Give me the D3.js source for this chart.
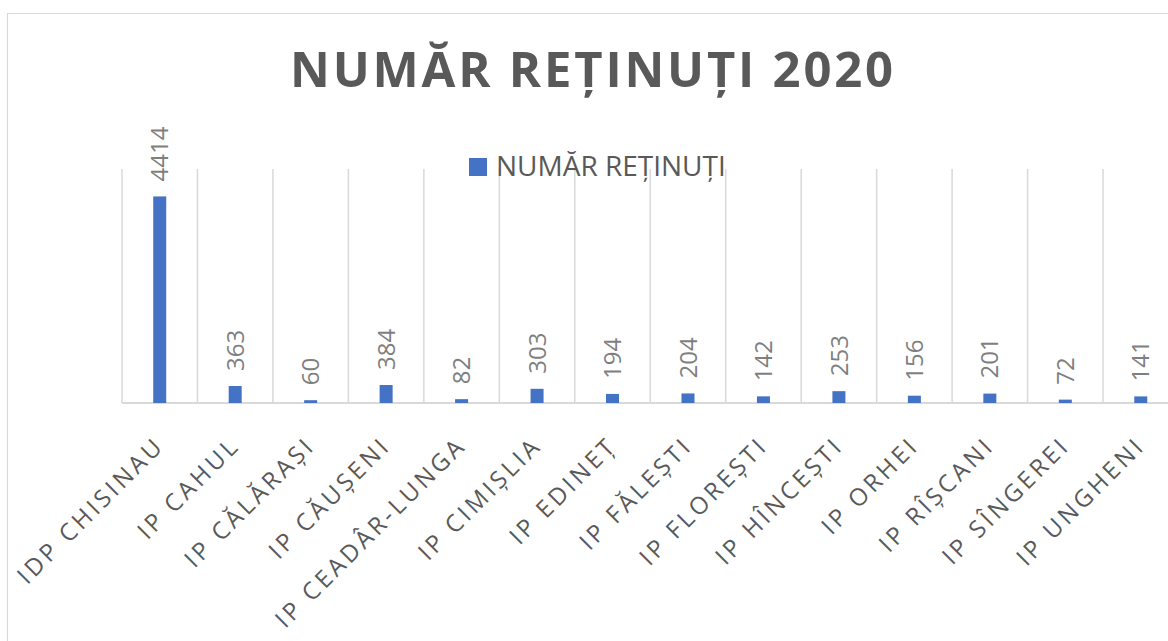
<!DOCTYPE html>
<html>
<head>
<meta charset="utf-8">
<script src="https://cdn.jsdelivr.net/npm/d3@7"></script>
<style>
  html, body { margin: 0; padding: 0; background: #fff; }
  svg { display: block; font-family: "Open Sans", "Noto Sans", sans-serif; }
</style>
</head>
<body>
<svg id="chart" width="1168" height="641"></svg>
<script>
const titleText = "NUMĂR REȚINUȚI 2020";
const seriesName = "NUMĂR REȚINUȚI";
const categories = ["IDP CHISINAU", "IP CAHUL", "IP CĂLĂRAȘI", "IP CĂUȘENI", "IP CEADÂR-LUNGA", "IP CIMIȘLIA", "IP EDINEȚ", "IP FĂLEȘTI", "IP FLOREȘTI", "IP HÎNCEȘTI", "IP ORHEI", "IP RÎȘCANI", "IP SÎNGEREI", "IP UNGHENI"];
const values = [4414, 363, 60, 384, 82, 303, 194, 204, 142, 253, 156, 201, 72, 141];
const yDomain = [0, 5000];

const svg = d3.select("#chart");
const W = 1168, H = 641;
const plot = { left: 122, right: 1178.5, top: 169, bottom: 403 };
const barColor = "#4472c4";
const gridColor = "#d9d9d9";

// chart frame (cropped on right and bottom)
svg.append("path")
  .attr("d", `M7.5,${H + 5} L7.5,13.5 L${W + 5},13.5`)
  .attr("fill", "none").attr("stroke", gridColor).attr("stroke-width", 1.2);

const x = d3.scaleBand().domain(categories).range([plot.left, plot.right]).paddingInner(0).paddingOuter(0);
const y = d3.scaleLinear().domain(yDomain).range([plot.bottom, plot.top]);

// vertical category gridlines
const bounds = categories.map(c => x(c)).concat([plot.right]);
svg.append("g").selectAll("line").data(bounds).join("line")
  .attr("x1", d => d).attr("x2", d => d)
  .attr("y1", plot.top).attr("y2", plot.bottom)
  .attr("stroke", gridColor).attr("stroke-width", 1.5);

// x axis line
svg.append("line")
  .attr("x1", plot.left).attr("x2", plot.right)
  .attr("y1", plot.bottom).attr("y2", plot.bottom)
  .attr("stroke", gridColor).attr("stroke-width", 2);

// bars
const barW = 13;
svg.append("g").selectAll("rect").data(values).join("rect")
  .attr("x", (d, i) => x(categories[i]) + x.bandwidth() / 2 - barW / 2)
  .attr("y", d => y(d))
  .attr("width", barW)
  .attr("height", d => plot.bottom - y(d))
  .attr("fill", barColor);

// value labels (rotated)
svg.append("g").selectAll("text").data(values).join("text")
  .attr("transform", (d, i) => `translate(${x(categories[i]) + x.bandwidth() / 2},${y(d) - 15}) rotate(-90)`)
  .attr("dy", "0.36em")
  .attr("text-anchor", "start")
  .attr("font-size", 24)
  .attr("fill", "#7f7f7f")
  .text(d => d);

// category labels rotated -45
svg.append("g").selectAll("text").data(categories).join("text")
  .attr("transform", c => `translate(${x(c) + x.bandwidth() / 2 + 6},${plot.bottom + 44}) rotate(-45)`)
  .attr("text-anchor", "end")
  .attr("font-size", 24)
  .attr("letter-spacing", "3.4px")
  .attr("fill", "#595959")
  .text(c => c);

// title
svg.append("text")
  .attr("x", 593).attr("y", 87)
  .attr("text-anchor", "middle")
  .attr("font-size", 49)
  .attr("font-weight", "bold")
  .attr("letter-spacing", "2.8px")
  .attr("fill", "#595959")
  .text(titleText);

// legend
const lg = svg.append("g");
lg.append("rect").attr("x", 469).attr("y", 158).attr("width", 18).attr("height", 18).attr("fill", barColor);
lg.append("text").attr("x", 496).attr("y", 176)
  .attr("font-size", 28).attr("fill", "#595959").text(seriesName);
</script>
</body>
</html>
